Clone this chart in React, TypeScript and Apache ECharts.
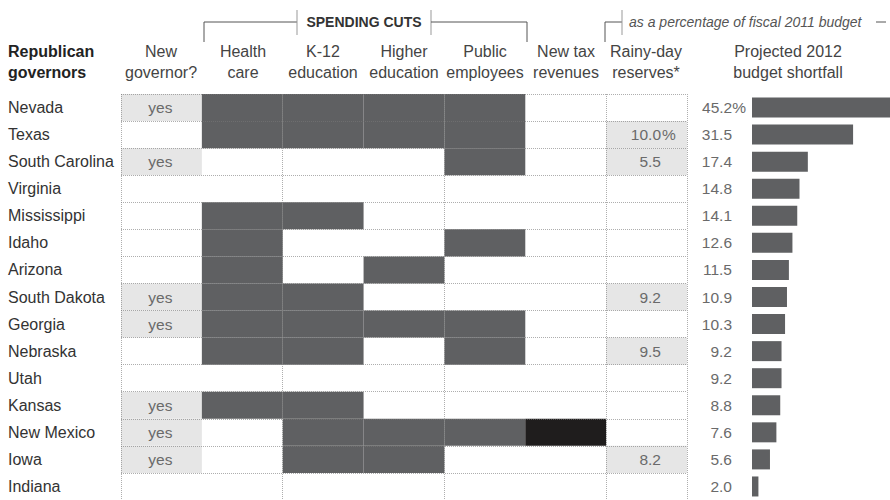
import React, { useEffect, useRef } from "react";
import * as echarts from "echarts";

const states = [
  "Nevada", "Texas", "South Carolina", "Virginia", "Mississippi", "Idaho", "Arizona",
  "South Dakota", "Georgia", "Nebraska", "Utah", "Kansas", "New Mexico", "Iowa", "Indiana",
];
const columns = [
  "New governor?", "Health care", "K-12 education", "Higher education",
  "Public employees", "New tax revenues", "Rainy-day reserves*",
];
const newGovernor = [1, 0, 1, 0, 0, 0, 0, 1, 1, 0, 0, 1, 1, 1, 0];
const healthCare = [1, 1, 0, 0, 1, 1, 1, 1, 1, 1, 0, 1, 0, 0, 0];
const k12Education = [1, 1, 0, 0, 1, 0, 0, 1, 1, 1, 0, 1, 1, 1, 0];
const higherEducation = [1, 1, 0, 0, 0, 0, 1, 0, 1, 0, 0, 0, 1, 1, 0];
const publicEmployees = [1, 1, 1, 0, 0, 1, 0, 0, 1, 1, 0, 0, 1, 0, 0];
const newTaxRevenues = [0, 0, 0, 0, 0, 0, 0, 0, 0, 0, 0, 0, 1, 0, 0];
const rainyDayReserves: (number | null)[] = [
  null, 10.0, 5.5, null, null, null, null, 9.2, null, 9.5, null, null, null, 8.2, null,
];
const budgetShortfall = [45.2, 31.5, 17.4, 14.8, 14.1, 12.6, 11.5, 10.9, 10.3, 9.2, 9.2, 8.8, 7.6, 5.6, 2.0];

const FONT = "'Liberation Sans', Arial, sans-serif";
const DARK = "#5f6062";
const BLACK = "#1f1d1d";
const LIGHT = "#e6e6e6";
const VALUE_COLOR = "#6a6a6a";

export default function App() {
  const ref = useRef<HTMLDivElement>(null);

  useEffect(() => {
    if (!ref.current) return;
    const chart = echarts.init(ref.current, undefined, { renderer: "svg" });

    // kind: 1 light, 2 dark, 3 black
    const cells: number[][] = [];
    states.forEach((_, r) => {
      if (newGovernor[r]) cells.push([0, r, 1]);
      [healthCare, k12Education, higherEducation, publicEmployees].forEach((arr, k) => {
        if (arr[r]) cells.push([k + 1, r, 2]);
      });
      if (newTaxRevenues[r]) cells.push([5, r, 3]);
      if (rainyDayReserves[r] != null) cells.push([6, r, 1]);
    });

    const rainyFirstIndex = rainyDayReserves.findIndex((v) => v != null);

    const renderCell = (params: any, api: any) => {
      const col = api.value(0);
      const row = api.value(1);
      const kind = api.value(2);
      const p = api.coord([col, row]);
      const sz = api.size([1, 1]);
      const x0 = p[0] - sz[0] / 2;
      const y0 = p[1] - sz[1] / 2;
      const fill = kind === 1 ? LIGHT : kind === 2 ? DARK : BLACK;
      const children: any[] = [
        {
          type: "rect",
          shape: { x: x0, y: y0, width: sz[0], height: sz[1] },
          style: { fill },
        },
      ];
      if (kind === 1 && col === 0) {
        children.push({
          type: "text",
          x: p[0] - 1,
          y: p[1],
          style: {
            text: "yes", fill: VALUE_COLOR, font: `15.5px ${FONT}`,
            align: "center", verticalAlign: "middle",
          },
        });
      }
      if (kind === 1 && col === 6) {
        const v = rainyDayReserves[row] as number;
        const xr = x0 + sz[0] - 26;
        children.push({
          type: "text",
          x: xr,
          y: p[1],
          style: {
            text: v.toFixed(1), fill: VALUE_COLOR, font: `15.5px ${FONT}`,
            align: "right", verticalAlign: "middle",
          },
        });
        if (row === rainyFirstIndex) {
          children.push({
            type: "text",
            x: xr + 1,
            y: p[1],
            style: {
              text: "%", fill: VALUE_COLOR, font: `15.5px ${FONT}`,
              align: "left", verticalAlign: "middle",
            },
          });
        }
      }
      return { type: "group", children };
    };

    const lineColor = "#555";
    const headerStyle = (text: string, x: number, y: number, extra: any = {}) => ({
      type: "text",
      x,
      y,
      style: {
        text, fill: "#444", font: `16px ${FONT}`,
        align: "center", verticalAlign: "middle", ...extra,
      },
    });

    const graphics: any[] = [
      headerStyle("Republican", 8, 51, { align: "left", font: `bold 16px ${FONT}`, fill: "#222" }),
      headerStyle("governors", 8, 72, { align: "left", font: `bold 16px ${FONT}`, fill: "#222" }),
      headerStyle("New", 161, 51),
      headerStyle("governor?", 161, 72),
      headerStyle("Health", 243, 51),
      headerStyle("care", 243, 72),
      headerStyle("K-12", 323, 51),
      headerStyle("education", 323, 72),
      headerStyle("Higher", 404, 51),
      headerStyle("education", 404, 72),
      headerStyle("Public", 485, 51),
      headerStyle("employees", 485, 72),
      headerStyle("New tax", 566, 51),
      headerStyle("revenues", 566, 72),
      headerStyle("Rainy-day", 646, 51),
      headerStyle("reserves*", 646, 72),
      headerStyle("Projected 2012", 788, 51),
      headerStyle("budget shortfall", 788, 72),
      headerStyle("SPENDING CUTS", 364, 22, { font: `bold 14px ${FONT}`, fill: "#333" }),
      headerStyle("as a percentage of fiscal 2011 budget", 629, 22, {
        align: "left", font: `italic 14px ${FONT}`, fill: "#555",
      }),
      { type: "polyline", shape: { points: [[204, 42], [204, 22], [297, 22]] }, style: { stroke: lineColor, lineWidth: 1, fill: null } },
      { type: "line", shape: { x1: 297, y1: 10, x2: 297, y2: 35 }, style: { stroke: "#999", lineWidth: 1 } },
      { type: "line", shape: { x1: 431, y1: 10, x2: 431, y2: 35 }, style: { stroke: "#999", lineWidth: 1 } },
      { type: "polyline", shape: { points: [[431, 22], [527, 22], [527, 42]] }, style: { stroke: lineColor, lineWidth: 1, fill: null } },
      { type: "polyline", shape: { points: [[605, 42], [605, 22], [622, 22]] }, style: { stroke: lineColor, lineWidth: 1, fill: null } },
      { type: "line", shape: { x1: 622, y1: 10, x2: 622, y2: 35 }, style: { stroke: "#999", lineWidth: 1 } },
      { type: "line", shape: { x1: 876, y1: 22, x2: 886, y2: 22 }, style: { stroke: lineColor, lineWidth: 1 } },
    ];

    const gridTop = 94;
    const gridHeight = 27.3 * states.length;
    const dotted = { type: "dotted", color: "rgba(120,120,120,0.6)", width: 1 };

    chart.setOption({
      animation: false,
      backgroundColor: "#fff",
      textStyle: { fontFamily: FONT },
      grid: [
        { left: 121, top: gridTop, width: 566, height: gridHeight },
        { left: 752, top: gridTop, width: 138, height: gridHeight },
      ],
      xAxis: [
        {
          type: "category", gridIndex: 0, data: columns, position: "top", z: 5,
          axisLine: { show: false }, axisTick: { show: false }, axisLabel: { show: false },
          splitLine: { show: true, lineStyle: dotted },
        },
        { type: "value", gridIndex: 1, min: 0, max: 43, show: false },
      ],
      yAxis: [
        {
          type: "category", gridIndex: 0, data: states, inverse: true, z: 5,
          axisLine: { show: false }, axisTick: { show: false },
          axisLabel: { align: "left", margin: 113, color: "#333", fontSize: 16, fontFamily: FONT },
          splitLine: { show: true, lineStyle: dotted },
        },
        { type: "category", gridIndex: 1, data: states, inverse: true, show: false },
      ],
      series: [
        {
          type: "custom",
          xAxisIndex: 0,
          yAxisIndex: 0,
          data: cells,
          renderItem: renderCell,
          z: 2,
        },
        {
          type: "bar",
          xAxisIndex: 1,
          yAxisIndex: 1,
          barWidth: 20,
          clip: true,
          itemStyle: { color: DARK },
          label: {
            show: true, position: "left", distance: 20, color: VALUE_COLOR,
            fontSize: 15.5, fontFamily: FONT,
            formatter: (p: any) => (p.dataIndex === 0 ? `${p.value.toFixed(1)}%` : p.value.toFixed(1)),
          },
          data: budgetShortfall.map((v, i) =>
            i === 0 ? { value: v, label: { distance: 6 } } : v
          ),
        },
      ],
      graphic: graphics,
    });

    return () => chart.dispose();
  }, []);

  return (
    <div
      ref={ref}
      style={{ position: "fixed", left: 0, top: 0, width: 890, height: 500 }}
    />
  );
}
